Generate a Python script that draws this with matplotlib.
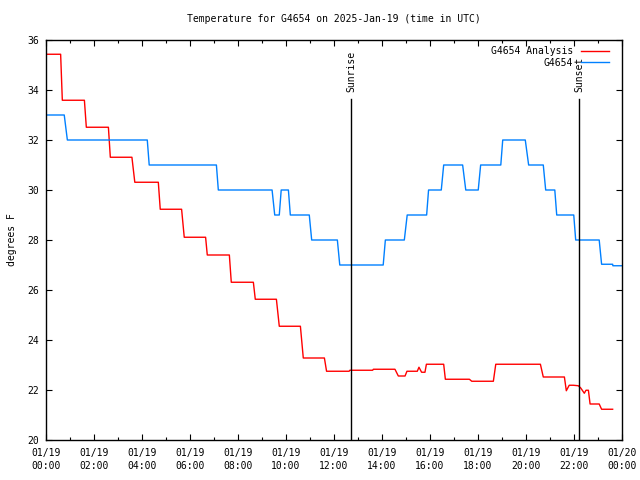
import numpy as np
import matplotlib
matplotlib.use("Agg")
import matplotlib.pyplot as plt

plt.rcParams['font.family'] = ['DejaVu Sans Mono']
plt.rcParams['font.size'] = 7

# observed temperature (hours since 01/19 00:00 UTC, deg F)
obs_hours = [0.0, 0.76, 0.89, 4.22, 4.30, 7.10, 7.18, 9.42, 9.53, 9.72, 9.80, 10.10, 10.18,
             10.97, 11.07, 12.14, 12.24, 14.05, 14.14, 14.93, 15.05, 15.86, 15.94, 16.47, 16.57,
             17.36, 17.49, 18.01, 18.11, 18.95, 19.03, 19.97, 20.11, 20.72, 20.82, 21.20, 21.28,
             21.99, 22.07, 23.05, 23.15, 23.61, 23.62, 24.0]
obs_temp = [33, 33, 32, 32, 31, 31, 30, 30, 29, 29, 30, 30, 29,
            29, 28, 28, 27, 27, 28, 28, 29, 29, 30, 30, 31,
            31, 30, 30, 31, 31, 32, 32, 31, 31, 30, 30, 29,
            29, 28, 28, 27.03, 27.03, 26.97, 26.97]

# analysis temperature
ana_hours = [0.0, 0.61, 0.68, 1.60, 1.68, 2.60, 2.68, 3.58, 3.70, 4.68, 4.76, 5.65, 5.76,
             6.65, 6.72, 7.64, 7.72, 8.64, 8.72, 9.60, 9.72, 10.60, 10.72, 11.60, 11.69,
             12.63, 12.66, 13.61, 13.64, 14.54, 14.68, 14.96, 15.04, 15.47, 15.54, 15.65, 15.79,
             15.85, 16.57, 16.64, 17.64, 17.74, 18.64, 18.74, 20.60, 20.72, 21.60, 21.68, 21.80,
             21.97, 22.18, 22.28, 22.43, 22.50, 22.60, 22.67, 23.05, 23.15, 23.61]
ana_temp = [35.43, 35.43, 33.59, 33.59, 32.51, 32.51, 31.31, 31.31, 30.31, 30.31, 29.23, 29.23, 28.11,
            28.11, 27.40, 27.40, 26.31, 26.31, 25.63, 25.63, 24.55, 24.55, 23.28, 23.28, 22.75,
            22.75, 22.79, 22.79, 22.83, 22.83, 22.56, 22.56, 22.75, 22.75, 22.91, 22.71, 22.71,
            23.03, 23.03, 22.43, 22.43, 22.35, 22.35, 23.03, 23.03, 22.52, 22.52, 21.97, 22.19,
            22.19, 22.17, 22.08, 21.87, 21.99, 21.99, 21.44, 21.44, 21.23, 21.23]

sunrise = 12.72
sunset = 22.22

xtick_hours = list(range(0, 25, 2))
xtick_labels = ["01/19\n%02d:00" % h for h in range(0, 24, 2)] + ["01/20\n00:00"]

fig = plt.figure(figsize=(6.4, 4.8), dpi=100)
ax = fig.add_axes([46/640, 40/480, 576/640, 400/480])

ax.plot(ana_hours, ana_temp, color='#ff0000', lw=1.0, label='G4654 Analysis')
ax.plot(obs_hours, obs_temp, color='#0080ff', lw=1.0, label='G4654')

for h, name in [(sunrise, 'Sunrise'), (sunset, 'Sunset')]:
    ax.plot([h, h], [20, 33.64], color='black', lw=1.0)
    ax.text(h, 33.92, name, rotation=90, ha='center', va='bottom')

ax.set_xlim(0, 24)
ax.set_ylim(20, 36)
ax.set_xticks(xtick_hours)
ax.set_xticklabels(xtick_labels, linespacing=1.3)
ax.set_xticks(range(0, 25), minor=True)
ax.set_yticks(range(20, 37, 2))
ax.tick_params(which='major', direction='in', length=4.5, width=0.8, top=True, right=True)
ax.tick_params(axis='x', which='major', pad=6)
ax.tick_params(axis='y', which='major', pad=5)
ax.tick_params(which='minor', direction='in', length=2, width=0.8, top=True, right=True)
ax.tick_params(axis='y', which='minor', left=False, right=False)
for s in ax.spines.values():
    s.set_linewidth(1.0)

ax.set_ylabel('degrees F')
ax.yaxis.set_label_coords(-0.050, 0.5)
fig.text(334/640, 1 - 19/480, 'Temperature for G4654 on 2025-Jan-19 (time in UTC)',
         ha='center', va='center', fontsize=7)

ax.legend(loc='upper right', bbox_to_anchor=(0.981, 0.990), markerfirst=False, frameon=False,
          handlelength=2.9, handletextpad=0.8, labelspacing=0.2, borderaxespad=0.0, borderpad=0.2)

fig.savefig('out.png', dpi=100)
